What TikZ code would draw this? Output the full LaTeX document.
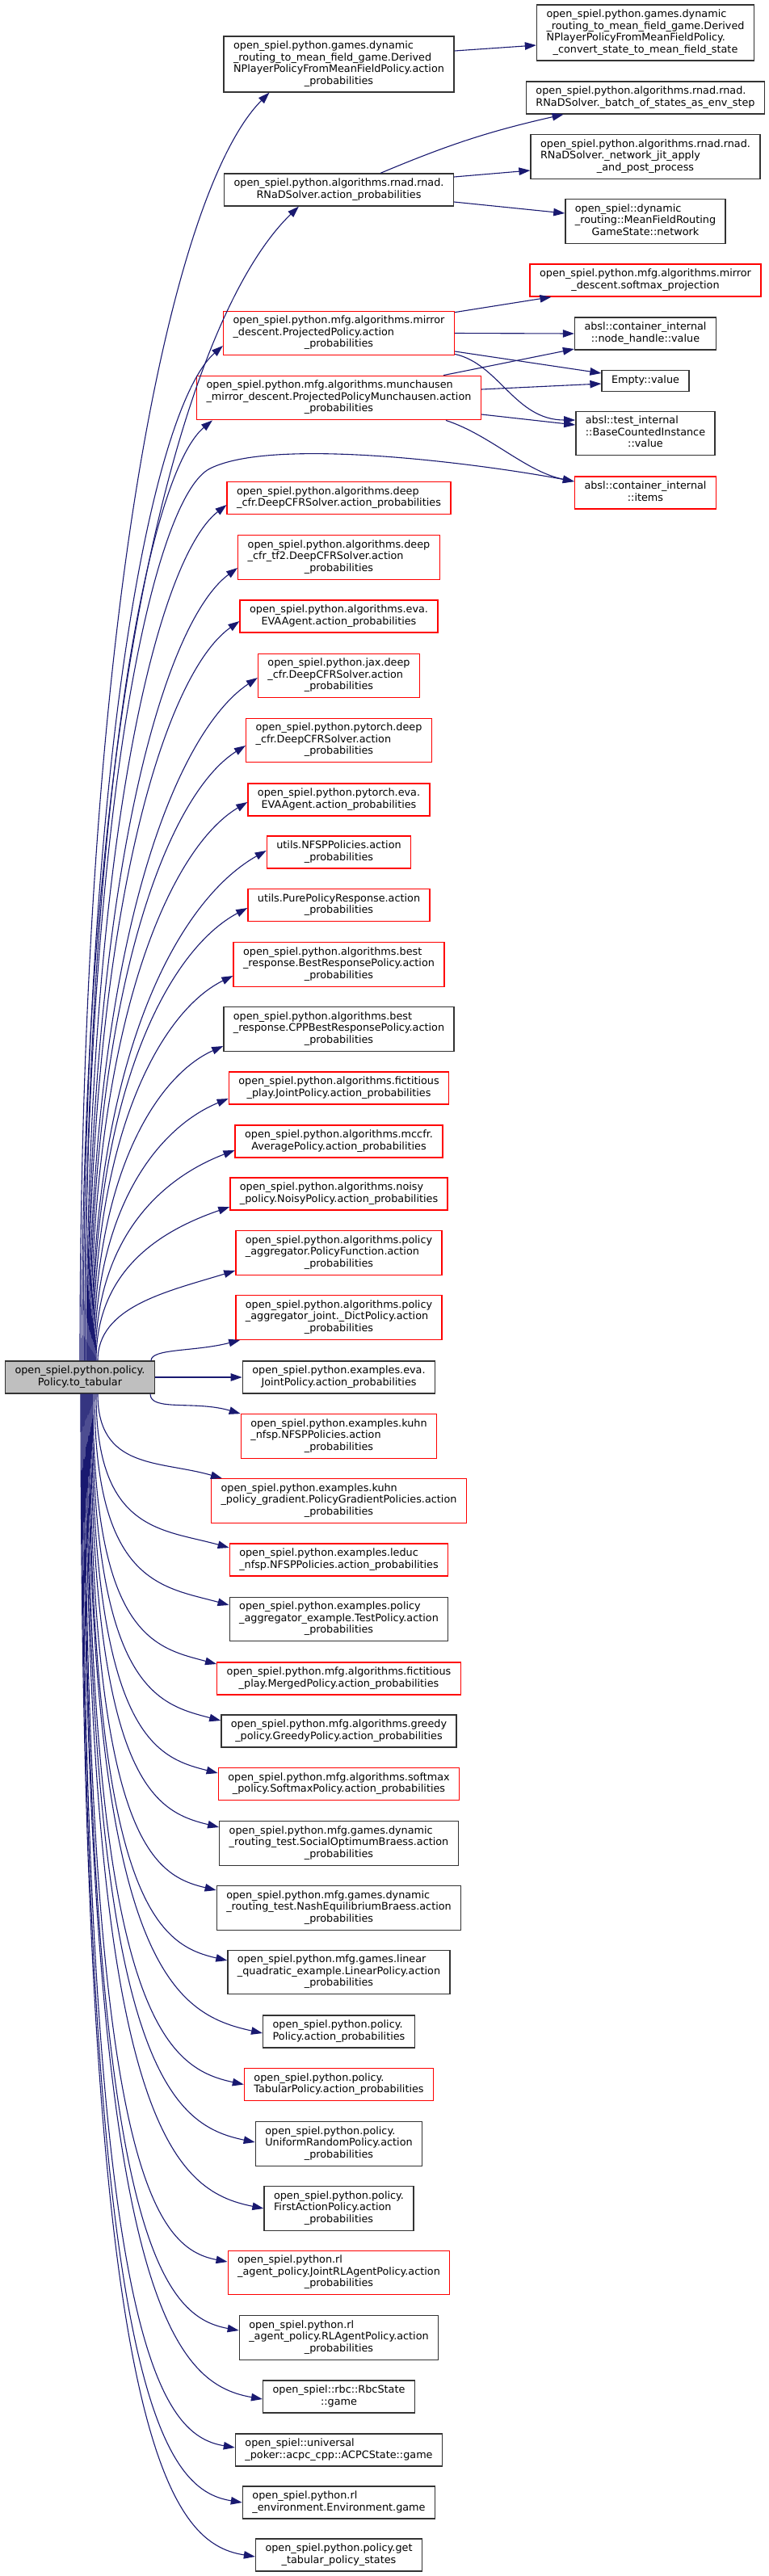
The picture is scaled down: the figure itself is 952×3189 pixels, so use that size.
\documentclass[tikz,border=0pt]{standalone}
\usepackage{fontspec}
\setmainfont{DejaVu Sans}
\usetikzlibrary{arrows.meta,calc}
\definecolor{callcolor}{HTML}{191970}
\definecolor{truncred}{HTML}{FF0000}
\definecolor{rootfill}{HTML}{BFBFBF}
\newcommand{\fnlines}[2]{\begin{tabular}{@{}l@{}}#1\\\multicolumn{1}{@{}c@{}}{#2}\end{tabular}}
\newcommand{\fnline}[1]{\begin{tabular}{@{}c@{}}#1\end{tabular}}

\begin{document}
\begin{tikzpicture}[
  x=1pt, y=-1pt,
  font=\fontsize{12.8}{14.5}\selectfont,
  >={Triangle[length=14pt,width=9.5pt]},
  fn/.style={draw=#1, fill=white, line width=1.3pt, inner xsep=12pt, inner ysep=5.5pt},
  fn/.default={black!80},
  rootfn/.style={fn, fill=rootfill},
  call/.style={->, draw=callcolor, line width=1.1pt},
]
\useasboundingbox (0,0) rectangle (952,3189);

% --- caller -----------------------------------------------------------
\node[rootfn] (root) at (99,1705) {\fnlines{open\_spiel.python.policy.}{Policy.to\_tabular}};

% --- direct callees (middle column) -------------------------------------
\node[fn] (ndyn) at (419.5,79.5) {\fnlines{open\_spiel.python.games.dynamic\\\_routing\_to\_mean\_field\_game.Derived\\NPlayerPolicyFromMeanFieldPolicy.action}{\_probabilities}};
\node[fn] (nrnad) at (419.5,235) {\fnlines{open\_spiel.python.algorithms.rnad.rnad.}{RNaDSolver.action\_probabilities}};
\node[fn=truncred] (nmirror) at (419.5,412.5) {\fnlines{open\_spiel.python.mfg.algorithms.mirror\\\_descent.ProjectedPolicy.action}{\_probabilities}};
\node[fn=truncred] (nmunch) at (419.5,492.5) {\fnlines{open\_spiel.python.mfg.algorithms.munchausen\\\_mirror\_descent.ProjectedPolicyMunchausen.action}{\_probabilities}};
\node[fn=truncred] (ndcfr) at (419.5,616.5) {\fnlines{open\_spiel.python.algorithms.deep}{\_cfr.DeepCFRSolver.action\_probabilities}};
\node[fn=truncred] (ntf2) at (419.5,690) {\fnlines{open\_spiel.python.algorithms.deep\\\_cfr\_tf2.DeepCFRSolver.action}{\_probabilities}};
\node[fn=truncred] (neva) at (419.5,763) {\fnlines{open\_spiel.python.algorithms.eva.}{EVAAgent.action\_probabilities}};
\node[fn=truncred] (njax) at (419.5,836.5) {\fnlines{open\_spiel.python.jax.deep\\\_cfr.DeepCFRSolver.action}{\_probabilities}};
\node[fn=truncred] (npyt) at (419.5,916.5) {\fnlines{open\_spiel.python.pytorch.deep\\\_cfr.DeepCFRSolver.action}{\_probabilities}};
\node[fn=truncred] (npyeva) at (419.5,990) {\fnlines{open\_spiel.python.pytorch.eva.}{EVAAgent.action\_probabilities}};
\node[fn=truncred] (nnfsp) at (419.5,1055) {\fnlines{utils.NFSPPolicies.action}{\_probabilities}};
\node[fn=truncred] (npure) at (419.5,1120.5) {\fnlines{utils.PurePolicyResponse.action}{\_probabilities}};
\node[fn=truncred] (nbest) at (419.5,1194) {\fnlines{open\_spiel.python.algorithms.best\\\_response.BestResponsePolicy.action}{\_probabilities}};
\node[fn] (ncpp) at (419.5,1274) {\fnlines{open\_spiel.python.algorithms.best\\\_response.CPPBestResponsePolicy.action}{\_probabilities}};
\node[fn=truncred] (nfict) at (419.5,1347) {\fnlines{open\_spiel.python.algorithms.fictitious}{\_play.JointPolicy.action\_probabilities}};
\node[fn=truncred] (nmccfr) at (419.5,1413) {\fnlines{open\_spiel.python.algorithms.mccfr.}{AveragePolicy.action\_probabilities}};
\node[fn=truncred] (nnoisy) at (419.5,1478) {\fnlines{open\_spiel.python.algorithms.noisy}{\_policy.NoisyPolicy.action\_probabilities}};
\node[fn=truncred] (npolfn) at (419.5,1551) {\fnlines{open\_spiel.python.algorithms.policy\\\_aggregator.PolicyFunction.action}{\_probabilities}};
\node[fn=truncred] (ndict) at (419.5,1631) {\fnlines{open\_spiel.python.algorithms.policy\\\_aggregator\_joint.\_DictPolicy.action}{\_probabilities}};
\node[fn] (nexeva) at (419.5,1705) {\fnlines{open\_spiel.python.examples.eva.}{JointPolicy.action\_probabilities}};
\node[fn=truncred] (nknfsp) at (419.5,1778) {\fnlines{open\_spiel.python.examples.kuhn\\\_nfsp.NFSPPolicies.action}{\_probabilities}};
\node[fn=truncred] (nkpg) at (419.5,1858) {\fnlines{open\_spiel.python.examples.kuhn\\\_policy\_gradient.PolicyGradientPolicies.action}{\_probabilities}};
\node[fn=truncred] (nleduc) at (419.5,1931) {\fnlines{open\_spiel.python.examples.leduc}{\_nfsp.NFSPPolicies.action\_probabilities}};
\node[fn] (ntest) at (419.5,2004.5) {\fnlines{open\_spiel.python.examples.policy\\\_aggregator\_example.TestPolicy.action}{\_probabilities}};
\node[fn=truncred] (nmerged) at (419.5,2078) {\fnlines{open\_spiel.python.mfg.algorithms.fictitious}{\_play.MergedPolicy.action\_probabilities}};
\node[fn] (ngreedy) at (419.5,2143) {\fnlines{open\_spiel.python.mfg.algorithms.greedy}{\_policy.GreedyPolicy.action\_probabilities}};
\node[fn=truncred] (nsoftmax) at (419.5,2208.5) {\fnlines{open\_spiel.python.mfg.algorithms.softmax}{\_policy.SoftmaxPolicy.action\_probabilities}};
\node[fn] (nsocial) at (419.5,2282) {\fnlines{open\_spiel.python.mfg.games.dynamic\\\_routing\_test.SocialOptimumBraess.action}{\_probabilities}};
\node[fn] (nnash) at (419.5,2362) {\fnlines{open\_spiel.python.mfg.games.dynamic\\\_routing\_test.NashEquilibriumBraess.action}{\_probabilities}};
\node[fn] (nlinear) at (419.5,2441.5) {\fnlines{open\_spiel.python.mfg.games.linear\\\_quadratic\_example.LinearPolicy.action}{\_probabilities}};
\node[fn] (npolicy) at (419.5,2515) {\fnlines{open\_spiel.python.policy.}{Policy.action\_probabilities}};
\node[fn=truncred] (ntabular) at (419.5,2580.5) {\fnlines{open\_spiel.python.policy.}{TabularPolicy.action\_probabilities}};
\node[fn] (nuniform) at (419.5,2654) {\fnlines{open\_spiel.python.policy.\\UniformRandomPolicy.action}{\_probabilities}};
\node[fn] (nfirst) at (419.5,2734) {\fnlines{open\_spiel.python.policy.\\FirstActionPolicy.action}{\_probabilities}};
\node[fn=truncred] (njointrl) at (419.5,2813.5) {\fnlines{open\_spiel.python.rl\\\_agent\_policy.JointRLAgentPolicy.action}{\_probabilities}};
\node[fn] (nrlagent) at (419.5,2894) {\fnlines{open\_spiel.python.rl\\\_agent\_policy.RLAgentPolicy.action}{\_probabilities}};
\node[fn] (nrbc) at (419.5,2967) {\fnlines{open\_spiel::rbc::RbcState}{::game}};
\node[fn] (nacpc) at (419.5,3033) {\fnlines{open\_spiel::universal}{\_poker::acpc\_cpp::ACPCState::game}};
\node[fn] (nenv) at (419.5,3098) {\fnlines{open\_spiel.python.rl}{\_environment.Environment.game}};
\node[fn] (ngettab) at (419.5,3163) {\fnlines{open\_spiel.python.policy.get}{\_tabular\_policy\_states}};

% --- second level (right column) ----------------------------------------
\node[fn] (nconv) at (799,40.5) {\fnlines{open\_spiel.python.games.dynamic\\\_routing\_to\_mean\_field\_game.Derived\\NPlayerPolicyFromMeanFieldPolicy.}{\_convert\_state\_to\_mean\_field\_state}};
\node[fn] (nbatch) at (799,121) {\fnlines{open\_spiel.python.algorithms.rnad.rnad.}{RNaDSolver.\_batch\_of\_states\_as\_env\_step}};
\node[fn] (njit) at (799,194) {\fnlines{open\_spiel.python.algorithms.rnad.rnad.\\RNaDSolver.\_network\_jit\_apply}{\_and\_post\_process}};
\node[fn] (nnet) at (799,274) {\fnlines{open\_spiel::dynamic\\\_routing::MeanFieldRouting}{GameState::network}};
\node[fn=truncred] (nsmproj) at (799,347) {\fnlines{open\_spiel.python.mfg.algorithms.mirror}{\_descent.softmax\_projection}};
\node[fn] (nhandle) at (799,413) {\fnlines{absl::container\_internal}{::node\_handle::value}};
\node[fn] (nempty) at (799,471.5) {\fnline{Empty::value}};
\node[fn] (nbase) at (799,536.5) {\fnlines{absl::test\_internal\\::BaseCountedInstance}{::value}};
\node[fn=truncred] (nitems) at (799,610) {\fnlines{absl::container\_internal}{::items}};

% --- calls going up from the root ---------------------------------------
\foreach \t/\sx/\an/\ox/\oy in {ndyn/0/south west/57/0, nrnad/2/south west/93/0,
    nmirror/4/west/0/-15.5, nmunch/6/south west/20/0, ndcfr/8/west/0/-8.5,
    ntf2/9/west/0/-13, neva/10/west/0/-6, njax/11/west/0/-2.5, npyt/12/west/0/-6.5,
    npyeva/13/west/0/-3, nnfsp/14/west/0/2, npure/15/west/0/-3.5, nbest/16/west/0/-14,
    ncpp/17/west/0/-21, nfict/18/west/0/-13, nmccfr/19/west/0/-11, nnoisy/20/west/0/-16,
    npolfn/22/west/0/-22, ndict/88/south west/6/0}
  \draw[call] let \p1=([xshift=\sx pt]root.north), \p2=($(\t.\an)+(\ox pt,\oy pt)$),
      \n1={min(1,0.25+(\y2-(\y1))/2000)}, \n2={0.5*(\x2-(\x1))} in
    (\p1) .. controls (\x1,{\y1+0.6*(\y2-(\y1))}) and ({\x2-\n2},{\y2-\n2*\n1}) .. (\p2);

\draw[call] ([xshift=6pt]root.north) .. controls (105,1000) and (190,615) .. (260,580)
  .. controls (340,540) and (600,575) .. ([yshift=14pt]nitems.west);
\draw[call] (root.east) -- (nexeva.west);

% --- calls going down from the root -------------------------------------
\foreach \t/\sx/\an/\ox/\oy in {nknfsp/87/north west/0/0, nkpg/22/north west/14/0,
    nleduc/20/west/0/15, ntest/18/west/0/17.5, nmerged/16/west/0/18, ngreedy/15/west/0/13,
    nsoftmax/14/west/0/13.5, nsocial/13/west/0/20, nnash/12/west/0/22, nlinear/11/west/0/14.5,
    npolicy/10/west/0/-2, ntabular/9/west/0/0, nuniform/8/west/0/2, nfirst/7/west/0/0,
    njointrl/6/west/0/13.5, nrlagent/5/west/0/9, nrbc/4/west/0/-3, nacpc/3/west/0/3,
    nenv/2/west/0/0, ngettab/1/west/0/-2}
  \draw[call] let \p1=([xshift=\sx pt]root.south), \p2=($(\t.\an)+(\ox pt,\oy pt)$),
      \n1={0.3-(\y1-(\y2))/10000}, \n2={0.5*(\x2-(\x1))} in
    (\p1) .. controls (\x1,{\y1-0.9*(\y1-(\y2))}) and ({\x2-\n2},{\y2+\n2*\n1}) .. (\p2);

% --- second level calls -------------------------------------------------
\draw[call] ([yshift=16.5pt]ndyn.east) -- ([yshift=-15.5pt]nconv.west);
\draw[call] ([xshift=51.5pt]nrnad.north) to[bend left=5] ([xshift=-101.4pt]nbatch.south);
\draw[call] ([yshift=16pt]nrnad.east) -- ([yshift=-17pt]njit.west);
\draw[call] ([yshift=-15pt]nrnad.east) -- ([yshift=10pt]nnet.west);
\draw[call] ([yshift=-2pt]nmirror.north east) -- ([xshift=27pt]nsmproj.south west);
\draw[call] (nmirror.east) -- (nhandle.west);
\draw[call] ([yshift=-22.5pt]nmirror.east) -- ([yshift=9.5pt]nempty.west);
\draw[call] ([yshift=2pt]nmirror.south east) .. controls +(55,12) and +(-75,0) .. ([yshift=16.5pt]nbase.west);
\draw[call] ([xshift=129.5pt]nmunch.north) -- ([yshift=-19pt]nhandle.west);
\draw[call] ([yshift=10.5pt]nmunch.east) -- ([yshift=-3.5pt]nempty.west);
\draw[call] ([yshift=-20.5pt]nmunch.east) -- ([yshift=10.5pt]nbase.west);
\draw[call] ([xshift=132.5pt]nmunch.south) .. controls +(55,18) and +(-60,-12) .. ([yshift=14pt]nitems.west);

\end{tikzpicture}
\end{document}
